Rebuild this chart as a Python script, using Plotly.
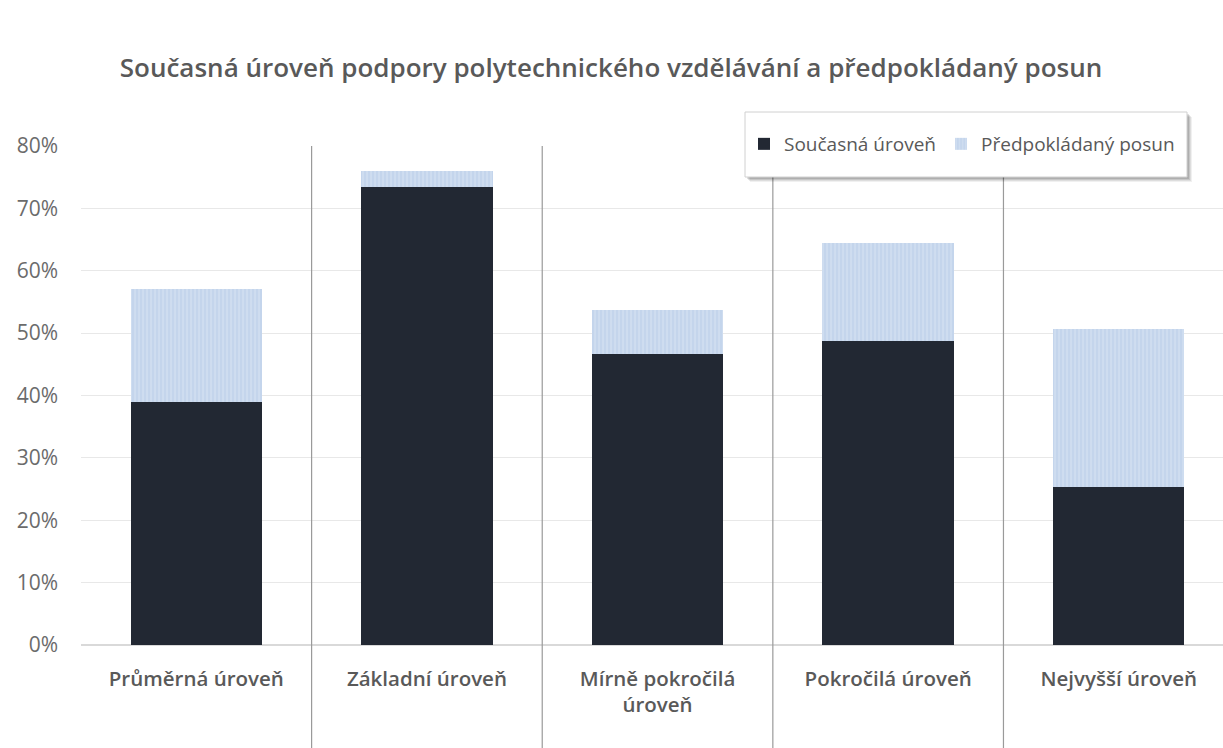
import plotly.graph_objects as go

categories = ["Průměrná úroveň", "Základní úroveň", "Mírně pokročilá<br>úroveň",
              "Pokročilá úroveň", "Nejvyšší úroveň"]
current_level = [0.39, 0.734, 0.466, 0.487, 0.253]
expected_shift = [0.18, 0.026, 0.071, 0.157, 0.253]
y_ticks = [0, 0.1, 0.2, 0.3, 0.4, 0.5, 0.6, 0.7, 0.8]

W, H = 1223, 748
L, R, T, B = 81, 0, 146, 103
FONT = "Open Sans"
GREY = "#595959"

x = list(range(len(categories)))

fig = go.Figure()
fig.add_trace(go.Bar(
    x=x, y=current_level, name="Současná úroveň",
    marker=dict(color="#222833", line=dict(width=0)),
    width=0.57,
))
fig.add_trace(go.Bar(
    x=x, y=expected_shift, name="Předpokládaný posun",
    marker=dict(color="#c9d9ee", line=dict(width=0),
                pattern=dict(shape="|", fgcolor="#e4ecf7", bgcolor="#c4d5ec",
                             size=4, solidity=0.3)),
    width=0.57,
))

pw = W - L - R
ph = H - T - B


def px_x(v):
    return (v - L) / pw


def px_y(v):
    return (H - B - v) / ph


# vertical separators between categories, running down through the labels
shapes = []
for i in range(1, len(categories)):
    shapes.append(dict(type="line", xref="x", yref="paper",
                       x0=i - 0.5, x1=i - 0.5, y0=1.0, y1=-B / ph,
                       line=dict(color="#9a9a9a", width=1.2), layer="above"))

# legend frame with a soft drop shadow
for off, alpha in [(5, 0.06), (4, 0.08), (3, 0.10), (2, 0.12)]:
    shapes.append(dict(type="rect", xref="paper", yref="paper",
                       x0=px_x(745 + off), x1=px_x(1187 + off),
                       y0=px_y(177 + off), y1=px_y(112 + off),
                       fillcolor=f"rgba(0,0,0,{alpha})", line=dict(width=0), layer="above"))
shapes.append(dict(type="rect", xref="paper", yref="paper",
                   x0=px_x(745), x1=px_x(1187), y0=px_y(177), y1=px_y(112),
                   fillcolor="white", line=dict(color="#d0d0d0", width=1), layer="above"))

fig.update_layout(
    width=W, height=H,
    barmode="stack",
    plot_bgcolor="white", paper_bgcolor="white",
    margin=dict(l=L, r=R, t=T, b=B),
    title=dict(text="Současná úroveň podpory polytechnického vzdělávání a předpokládaný posun",
               x=611 / W, xref="container", xanchor="center", y=1 - 68 / H, yanchor="middle",
               font=dict(family=FONT, size=26, color=GREY, weight=600)),
    xaxis=dict(tickmode="array", tickvals=x, ticktext=categories,
               range=[-0.5, 4.452], showgrid=False, zeroline=False, showline=False,
               ticks="", tickfont=dict(family=FONT, size=20.5, color=GREY, weight=600),
               ticklabelstandoff=19),
    yaxis=dict(range=[0, 0.8], tickvals=y_ticks, tickformat=".0%",
               showgrid=True, gridcolor="#e8e8e8", gridwidth=1,
               zeroline=True, zerolinecolor="#d9d9d9", showline=False,
               tickfont=dict(family=FONT, size=21, color="#6b6b6b"),
               ticklabelstandoff=22),
    legend=dict(orientation="h", x=px_x(744), y=px_y(144), xanchor="left", yanchor="middle",
                bgcolor="rgba(0,0,0,0)", borderwidth=0,
                font=dict(family=FONT, size=19, color=GREY),
                itemwidth=30, traceorder="normal"),
    shapes=shapes,
    showlegend=True,
)

fig.write_html("out.html")
